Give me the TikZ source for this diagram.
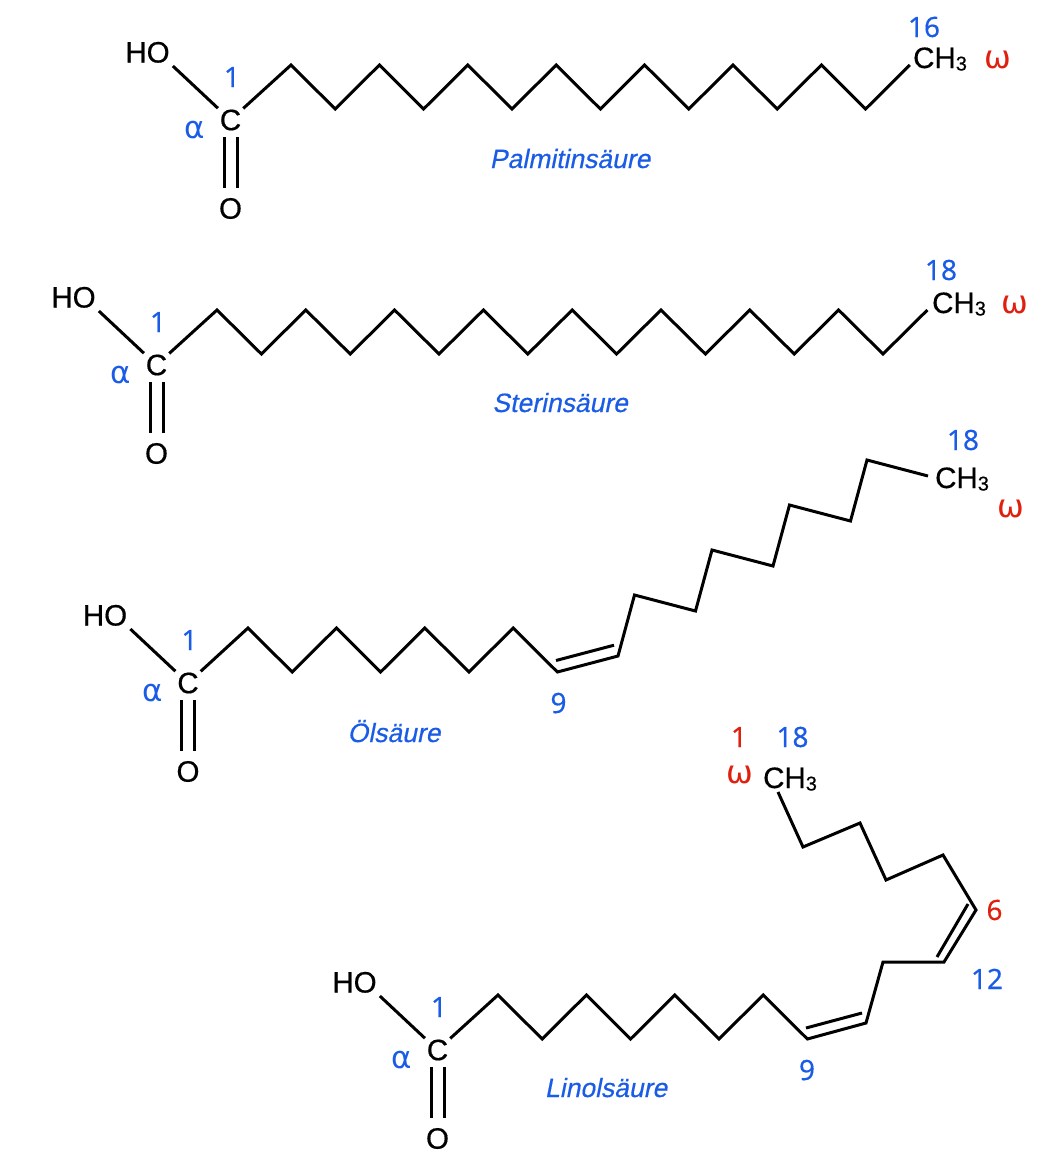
\documentclass[tikz,border=0pt]{standalone}
\usepackage{fontspec}
\setmainfont{Liberation Sans}
\newfontfamily\atomfont{Liberation Sans}[FakeBold=0.5]
\newfontfamily\namefont{Liberation Sans}[FakeBold=0.4,FakeSlant=0.2]
\newfontfamily\numfont{Noto Sans}[FakeBold=0.3]
\newfontfamily\grfont{DejaVu Sans}
\definecolor{fablue}{HTML}{1A5CE6}
\definecolor{fared}{HTML}{E0200F}
\newcommand\subthree{\raisebox{-2.5pt}{\fontsize{20}{20}\selectfont 3}}
\tikzset{
  bond/.style={line width=3pt, draw=black},
  atom/.style={font=\atomfont\fontsize{29.5}{29.5}\selectfont, inner sep=0pt, text=black},
  hoatom/.style={font=\atomfont\fontsize{29.5}{29.5}\selectfont, inner sep=3pt, text=black},
  catom/.style={font=\atomfont\fontsize{29.5}{29.5}\selectfont, circle, inner sep=0pt, minimum size=34pt, text=black},
  oatom/.style={font=\atomfont\fontsize{29.5}{29.5}\selectfont, circle, inner sep=0pt, minimum size=40pt, text=black},
  num/.style={font=\numfont\fontsize{28}{28}\selectfont, inner sep=0pt, text=fablue},
  rednum/.style={font=\numfont\fontsize{28}{28}\selectfont, inner sep=0pt, text=fared},
  alpha/.style={font=\grfont\fontsize{31}{31}\selectfont, inner sep=0pt, text=fablue},
  omega/.style={font=\grfont\fontsize{32}{32}\selectfont, inner sep=0pt, text=fared},
  acidname/.style={font=\namefont\fontsize{26.5}{26.5}\selectfont, inner sep=0pt, text=fablue},
}
\newcommand\fahead[3]{%
  \begin{scope}[shift={(#2,#3)}]
    \node[hoatom, anchor=base] (#1ho) at (147.5,62.5) {HO};
    \node[catom] (#1c) at (230.5,120) {C};
    \node[oatom] (#1o) at (230.5,208.5) {O};
    \node[alpha, anchor=base] (#1al) at (195,138) {α};
    \node[num, anchor=base] (#1n) at (232,87) {1};
    \draw[bond] (#1ho.south east) -- (#1c);
    \draw[bond, double, double distance=10pt] (#1c) -- (#1o);
  \end{scope}}
\begin{document}
\begin{tikzpicture}[x=1pt,y=-1pt]
\useasboundingbox (0,0) rectangle (1063,1171);
% ---------- Palmitinsaeure ----------
\fahead{a}{0}{0}
\foreach \k in {2,...,16}
  \coordinate (a\k) at ({291+44.2*(\k-2)},{mod(\k,2)==0 ? 65 : 109});
\draw[bond] (ac) -- (a2) -- (a3) -- (a4) -- (a5) -- (a6) -- (a7) -- (a8) -- (a9)
  -- (a10) -- (a11) -- (a12) -- (a13) -- (a14) -- (a15) -- (a16);
\node[atom, anchor=base west] (ach) at (913,68) {CH\subthree};
\node[num, anchor=base] (an16) at (924,37) {16};
\node[omega, anchor=base] (aom) at (997.5,68) {ω};
\node[acidname, anchor=base] (aname) at (570,168) {Palmitinsäure};
% ---------- Sterinsaeure ----------
\fahead{b}{-74}{245}
\foreach \k in {2,...,18}
  \coordinate (b\k) at ({217+44.4*(\k-2)},{mod(\k,2)==0 ? 310 : 354});
\draw[bond] (bc) -- (b2) -- (b3) -- (b4) -- (b5) -- (b6) -- (b7) -- (b8) -- (b9)
  -- (b10) -- (b11) -- (b12) -- (b13) -- (b14) -- (b15) -- (b16) -- (b17) -- (b18);
\node[atom, anchor=base west] (bch) at (932,313) {CH\subthree};
\node[num, anchor=base] (bn18) at (941,280) {18};
\node[omega, anchor=base] (bom) at (1014.5,313) {ω};
\node[acidname, anchor=base] (bname) at (560,412) {Sterinsäure};
% ---------- Oelsaeure ----------
\fahead{c}{-42.5}{563}
\foreach \k in {2,...,9}
  \coordinate (c\k) at ({248+44.2*(\k-2)},{mod(\k,2)==0 ? 628 : 672});
\coordinate (c10) at (618,656);
\coordinate (c11) at (634.5,595);
\coordinate (c12) at (695.5,611);
\coordinate (c13) at (712,550);
\coordinate (c14) at (773,566);
\coordinate (c15) at (789.5,505);
\coordinate (c16) at (850.5,521);
\coordinate (c17) at (867,460);
\coordinate (c18) at (928,476);
\draw[bond] (cc) -- (c2) -- (c3) -- (c4) -- (c5) -- (c6) -- (c7) -- (c8) -- (c9)
  -- (c10) -- (c11) -- (c12) -- (c13) -- (c14) -- (c15) -- (c16) -- (c17) -- (c18);
\coordinate (c9i) at (556,660.5);
\coordinate (c10i) at (614,645.2);
\draw[bond] (c9i) -- (c10i);
\node[atom, anchor=base west] (cch) at (935,488) {CH\subthree};
\node[num, anchor=base] (cn18) at (963,450) {18};
\node[omega, anchor=base] (com) at (1010.5,517) {ω};
\node[num, anchor=base] (cn9) at (558.5,713) {9};
\node[acidname, anchor=base] (cname) at (394,742) {Ölsäure};
% ---------- Linolsaeure ----------
\fahead{d}{207}{930}
\foreach \k in {2,...,9}
  \coordinate (d\k) at ({498+44.2*(\k-2)},{mod(\k,2)==0 ? 995 : 1039});
\coordinate (d10) at (866,1023);
\coordinate (d11) at (883,962);
\coordinate (d12) at (944,962);
\coordinate (d13) at (976,910);
\coordinate (d14) at (943,855);
\coordinate (d15) at (886,880);
\coordinate (d16) at (860,823);
\coordinate (d17) at (803,847);
\coordinate (d18) at (778,792);
\draw[bond] (dc) -- (d2) -- (d3) -- (d4) -- (d5) -- (d6) -- (d7) -- (d8) -- (d9)
  -- (d10) -- (d11) -- (d12) -- (d13) -- (d14) -- (d15) -- (d16) -- (d17) -- (d18);
\coordinate (d9i) at (806,1028);
\coordinate (d10i) at (862,1013);
\draw[bond] (d9i) -- (d10i);
\coordinate (d12i) at (937,957);
\coordinate (d13i) at (968,904);
\draw[bond] (d12i) -- (d13i);
\node[atom, anchor=base west] (dch) at (763,788) {CH\subthree};
\node[num, anchor=base] (dn18) at (792.5,747) {18};
\node[rednum, anchor=base] (dn1) at (739,747) {1};
\node[omega, anchor=base] (dom) at (739.5,783) {ω};
\node[rednum, anchor=base] (dn6) at (994.5,920) {6};
\node[num, anchor=base] (dn12) at (987,989) {12};
\node[num, anchor=base] (dn9) at (807,1080) {9};
\node[acidname, anchor=base] (dname) at (606,1097) {Linolsäure};
\end{tikzpicture}
\end{document}
